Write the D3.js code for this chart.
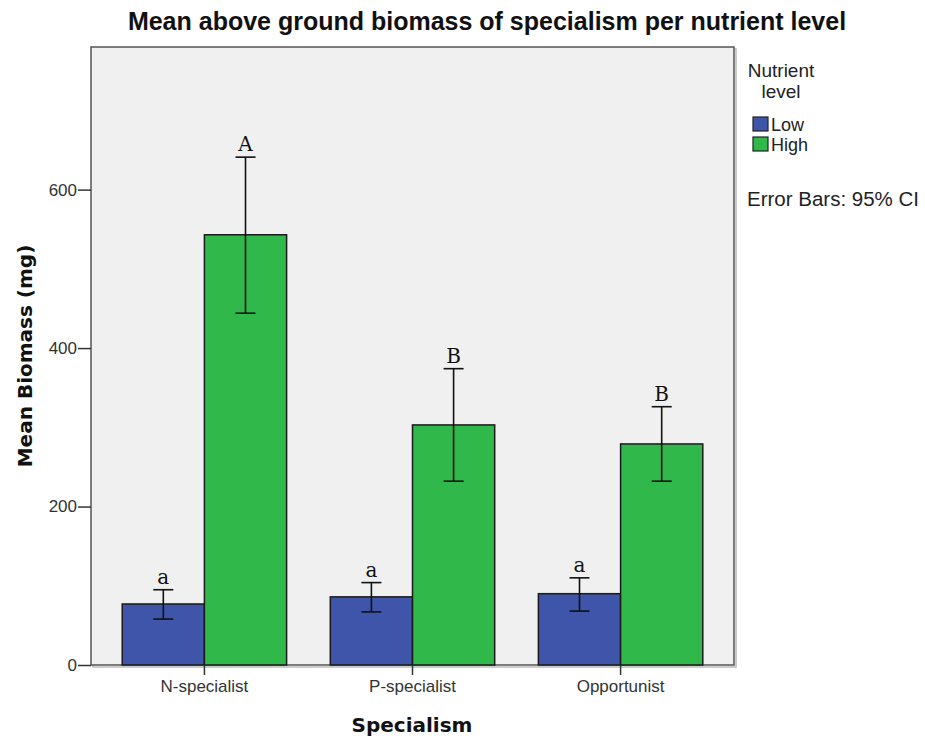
<!DOCTYPE html>
<html>
<head>
<meta charset="utf-8">
<script src="https://cdn.jsdelivr.net/npm/d3@7"></script>
<style>
body { margin: 0; background: #fff; }
</style>
</head>
<body>
<div id="chart"></div>
<script>
// data
var categories = ['N-specialist', 'P-specialist', 'Opportunist'];
var levels = ['Low', 'High'];
var lowMean = [77, 86, 90];
var lowCI = [[58, 95], [67, 104], [68, 110]];
var highMean = [543, 303, 279];
var highCI = [[444, 641], [232, 374], [232, 326]];
var lowLetters = ['a', 'a', 'a'];
var highLetters = ['A', 'B', 'B'];
var yTicks = [0, 200, 400, 600];

var width = 925;
var height = 740;
var plot = {left: 91, right: 734, top: 47, bottom: 665};
var colors = {Low: '#3e55aa', High: '#30b84a'};

var rows = [];
categories.forEach(function(c, i) {
	rows.push({cat: c, level: 'Low', mean: lowMean[i], lo: lowCI[i][0], hi: lowCI[i][1], letter: lowLetters[i]});
	rows.push({cat: c, level: 'High', mean: highMean[i], lo: highCI[i][0], hi: highCI[i][1], letter: highLetters[i]});
});

var svg = d3.select('#chart')
			.append('svg')
			.attr('width', width)
			.attr('height', height);

var x0 = d3.scaleBand()
			.domain(categories)
			.range([plot.left, plot.right])
			.paddingInner(0.21)
			.paddingOuter(0.15);

var x1 = d3.scaleBand()
			.domain(levels)
			.range([0, x0.bandwidth()]);

var y = d3.scaleLinear()
			.domain([0, 780])
			.range([plot.bottom, plot.top]);

//plot background + frame
svg.append('rect')
	.attr('x', plot.left + 2)
	.attr('y', plot.top + 2)
	.attr('width', plot.right - plot.left)
	.attr('height', plot.bottom - plot.top)
	.attr('fill', 'none')
	.attr('stroke', '#bbb')
	.attr('stroke-width', 1.5);

svg.append('rect')
	.attr('x', plot.left)
	.attr('y', plot.top)
	.attr('width', plot.right - plot.left)
	.attr('height', plot.bottom - plot.top)
	.attr('fill', '#f0f0f0')
	.attr('stroke', '#555')
	.attr('stroke-width', 1.5);

//bars
svg.selectAll('rect.bar')
	.data(rows)
	.enter()
	.append('rect')
	.attr('class', 'bar')
	.attr('x', function(d) { return x0(d.cat) + x1(d.level); })
	.attr('y', function(d) { return y(d.mean); })
	.attr('width', x1.bandwidth())
	.attr('height', function(d) { return y(0) - y(d.mean); })
	.attr('fill', function(d) { return colors[d.level]; })
	.attr('stroke', '#1a1a1a')
	.attr('stroke-width', 1.5);

//error bars
var cap = 10;
var eb = svg.selectAll('g.err')
	.data(rows)
	.enter()
	.append('g')
	.attr('class', 'err')
	.attr('transform', function(d) {
		return 'translate(' + (x0(d.cat) + x1(d.level) + x1.bandwidth() / 2) + ',0)';
	})
	.attr('stroke', '#111')
	.attr('stroke-width', 1.6);

eb.append('line')
	.attr('y1', function(d) { return y(d.lo); })
	.attr('y2', function(d) { return y(d.hi); });
eb.append('line')
	.attr('x1', -cap).attr('x2', cap)
	.attr('y1', function(d) { return y(d.hi); })
	.attr('y2', function(d) { return y(d.hi); });
eb.append('line')
	.attr('x1', -cap).attr('x2', cap)
	.attr('y1', function(d) { return y(d.lo); })
	.attr('y2', function(d) { return y(d.lo); });

//significance letters
svg.selectAll('text.letter')
	.data(rows)
	.enter()
	.append('text')
	.attr('class', 'letter')
	.attr('x', function(d) { return x0(d.cat) + x1(d.level) + x1.bandwidth() / 2; })
	.attr('y', function(d) { return y(d.hi) - 6; })
	.attr('text-anchor', 'middle')
	.attr('font-family', '"DejaVu Serif", "Liberation Serif", serif')
	.attr('font-size', 20)
	.attr('fill', '#111')
	.text(function(d) { return d.letter; });

//axes
var xAxis = d3.axisBottom(x0).tickSize(10).tickPadding(5).tickSizeOuter(0);
var yAxis = d3.axisLeft(y).tickValues(yTicks).tickSize(13).tickPadding(1).tickSizeOuter(0);

var gx = svg.append('g')
	.attr('transform', 'translate(0,' + plot.bottom + ')')
	.call(xAxis);
var gy = svg.append('g')
	.attr('transform', 'translate(' + plot.left + ',0)')
	.call(yAxis);

[gx, gy].forEach(function(g) {
	g.select('.domain').remove();
	g.selectAll('line').attr('stroke', '#333').attr('stroke-width', 1.5);
	g.selectAll('text')
		.attr('font-family', '"Liberation Sans", Arial, sans-serif')
		.attr('font-size', 17)
		.attr('fill', '#333');
});

//titles
svg.append('text')
	.attr('x', 487)
	.attr('y', 30)
	.attr('text-anchor', 'middle')
	.attr('font-family', '"Liberation Sans", Arial, sans-serif')
	.attr('font-weight', 'bold')
	.attr('font-size', 25)
	.attr('fill', '#111')
	.text('Mean above ground biomass of specialism per nutrient level');

svg.append('text')
	.attr('transform', 'translate(32,356) rotate(-90)')
	.attr('text-anchor', 'middle')
	.attr('font-family', '"DejaVu Sans", sans-serif')
	.attr('font-weight', 'bold')
	.attr('font-size', 20)
	.attr('fill', '#111')
	.text('Mean Biomass (mg)');

svg.append('text')
	.attr('x', 412)
	.attr('y', 732)
	.attr('text-anchor', 'middle')
	.attr('font-family', '"DejaVu Sans", sans-serif')
	.attr('font-weight', 'bold')
	.attr('font-size', 20)
	.attr('fill', '#111')
	.text('Specialism');

//legend
var lg = svg.append('g')
	.attr('font-family', '"Liberation Sans", Arial, sans-serif')
	.attr('fill', '#222');

lg.append('text').attr('x', 781).attr('y', 77).attr('text-anchor', 'middle')
	.attr('font-size', 19).text('Nutrient');
lg.append('text').attr('x', 781).attr('y', 98).attr('text-anchor', 'middle')
	.attr('font-size', 19).text('level');

levels.forEach(function(l, i) {
	lg.append('rect')
		.attr('x', 753)
		.attr('y', 117 + i * 20)
		.attr('width', 15)
		.attr('height', 14)
		.attr('fill', colors[l])
		.attr('stroke', '#222')
		.attr('stroke-width', 1.2);
	lg.append('text')
		.attr('x', 771)
		.attr('y', 131 + i * 20)
		.attr('font-size', 18)
		.text(l);
});

lg.append('text').attr('x', 747).attr('y', 206)
	.attr('font-size', 20.5).text('Error Bars: 95% CI');
</script>
</body>
</html>
